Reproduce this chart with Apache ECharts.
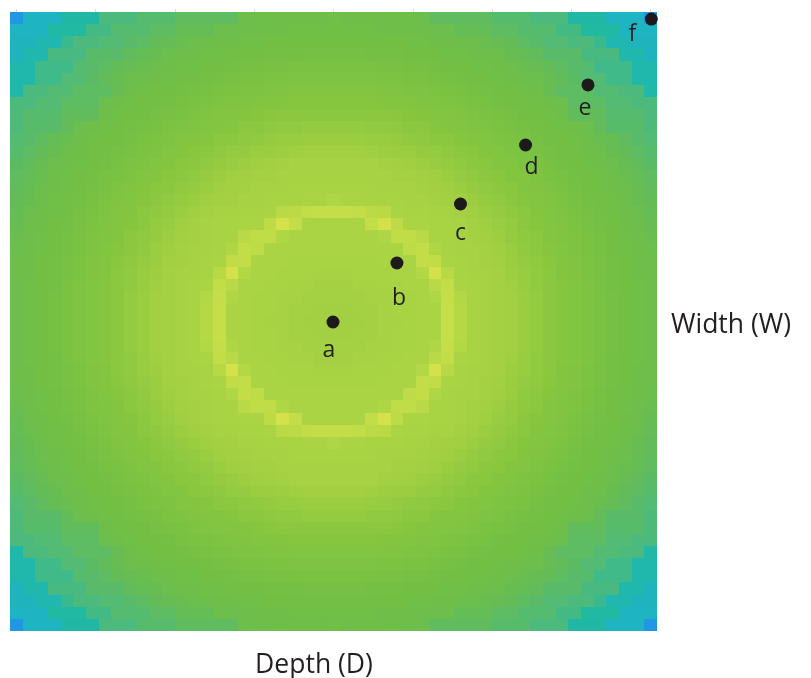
<!DOCTYPE html>
<html>
<head>
<meta charset="utf-8">
<style>html,body{margin:0;padding:0;background:#fff}#c{width:811px;height:678px}</style>
<script src="https://cdn.jsdelivr.net/npm/echarts@6/dist/echarts.min.js"></script>
</head>
<body>
<div id="c"></div>
<script>
// Estimated cell levels of the top-left quadrant (26 x 26); the picture is mirror-symmetric about its centre cell.
const row00 = [0,11,11,11,19,19,19,30,30,30,35,35,35,39,39,39,39,39,46,47,47,48,48,48,48,49];
const row01 = [11,11,11,20,20,20,28,28,34,34,34,38,38,42,42,42,46,46,47,48,48,48,49,49,49,49];
const row02 = [12,12,16,16,26,30,30,33,33,36,38,41,43,45,46,47,48,48,49,49,50,50,50,50,50,50];
const row03 = [12,17,17,29,29,29,36,36,36,40,42,44,46,47,48,49,49,50,50,50,51,51,51,52,52,52];
const row04 = [17,17,27,27,27,34,36,38,41,43,45,47,48,49,49,50,50,51,52,52,53,53,54,54,54,54];
const row05 = [17,17,27,27,33,33,37,41,43,46,47,48,49,50,50,51,52,53,54,54,55,55,56,56,56,56];
const row06 = [18,30,30,33,33,38,38,38,43,48,49,50,50,51,52,53,54,55,56,56,57,57,58,58,58,58];
const row07 = [30,30,33,33,38,38,38,46,48,49,50,50,51,53,54,55,56,57,57,58,59,59,60,60,60,60];
const row08 = [31,35,35,35,40,40,40,48,49,50,50,52,53,54,56,57,58,58,59,60,61,62,62,62,62,62];
const row09 = [31,36,36,36,41,46,48,49,50,51,52,53,55,56,57,58,59,60,62,62,63,64,64,65,65,65];
const row10 = [33,36,39,42,45,47,49,50,50,52,54,55,56,58,59,60,62,62,63,64,66,67,67,68,68,68];
const row11 = [35,38,41,44,47,48,50,50,52,53,55,56,58,59,61,62,63,65,66,68,68,69,70,71,71,71];
const row12 = [37,40,43,46,48,49,50,51,53,55,56,58,59,61,62,64,66,67,69,70,71,72,73,73,73,73];
const row13 = [39,42,45,47,49,50,51,53,54,56,58,59,61,62,64,66,68,70,71,72,72,73,73,73,73,73];
const row14 = [40,43,46,48,49,50,52,54,56,57,59,61,62,64,66,68,70,71,72,73,73,73,74,74,74,74];
const row15 = [41,44,47,49,50,51,53,55,57,58,60,62,64,66,68,70,71,72,73,73,74,74,74,75,76,78];
const row16 = [42,46,48,49,50,52,54,56,58,59,62,63,66,68,70,72,73,73,74,74,75,83,84,88,89,89];
const row17 = [43,47,48,50,51,53,55,57,58,60,62,65,67,70,72,73,74,74,75,75,85,98,88,76,75,75];
const row18 = [45,47,49,50,52,54,56,57,59,62,63,66,69,71,72,73,74,74,83,87,87,78,75,75,75,75];
const row19 = [46,48,49,50,52,54,56,58,60,62,64,68,70,72,73,73,74,78,88,86,76,75,75,75,75,75];
const row20 = [47,48,50,51,53,55,57,59,61,63,66,68,71,72,73,74,75,87,88,76,75,75,74,74,74,74];
const row21 = [47,48,50,51,53,55,57,59,62,64,67,69,72,73,73,74,82,98,80,75,75,74,74,74,73,73];
const row22 = [47,49,50,51,54,56,58,60,62,64,67,70,72,73,74,75,88,83,75,75,74,74,73,73,72,72];
const row23 = [47,49,50,52,54,56,58,60,62,65,68,71,72,73,74,80,89,78,75,74,74,73,73,72,72,72];
const row24 = [47,49,50,52,54,56,58,60,62,65,68,71,72,73,74,81,90,76,75,74,74,73,72,72,71,71];
const row25 = [47,49,50,52,54,56,58,60,62,65,68,71,72,73,74,81,90,76,75,74,73,73,72,71,71,70];
const quadrantRows = [row00,row01,row02,row03,row04,row05,row06,row07,row08,row09,row10,row11,row12,
  row13,row14,row15,row16,row17,row18,row19,row20,row21,row22,row23,row24,row25];

const colorStops = ['#2196e3','#1fb3c4','#20b9a2','#4cba7d','#62bc5b','#72bf44','#86c63f','#a0cf42','#b3d845','#c6de48','#d9e24b'];

const pointNames = ['a','b','c','d','e','f'];
const pointDepth = [24.96, 30.0, 35.01, 40.14, 45.06, 50.05];
const pointWidth = [25.04, 20.18, 15.32, 10.46, 5.51, 0.08];
const labelOffsets = [[-4,28],[2,35],[0,29],[6,22],[-3,24],[-19,15]];
const tickValues = [0,6.25,12.5,18.75,25,31.25,37.5,43.75,50];
const depthTitle = 'Depth (D)';
const widthTitle = 'Width (W)';

const mirror = r => r.concat(r.slice(0, 25).reverse());
const fullRows = quadrantRows.map(mirror);
const allRows = fullRows.concat(fullRows.slice(0, 25).reverse());
const n = allRows.length;
const cells = [];
allRows.forEach((row, y) => row.forEach((v, x) => cells.push([x, y, v])));
const idx = Array.from({length: n}, (_, i) => i);

const FONT = '"Open Sans", sans-serif';
const hidden = {axisLine:{show:false},axisTick:{show:false},axisLabel:{show:false},splitLine:{show:false}};
const chart = echarts.init(document.getElementById('c'), null, {renderer:'canvas'});
chart.setOption({
  animation:false,
  backgroundColor:'#fff',
  title:[
    {text:depthTitle,padding:0,left:314,top:665,textAlign:'center',textVerticalAlign:'middle',textStyle:{fontFamily:FONT,fontWeight:'normal',fontSize:26.5,color:'#231f20'}},
    {text:widthTitle,padding:0,left:731,top:325,textAlign:'center',textVerticalAlign:'middle',textStyle:{fontFamily:FONT,fontWeight:'normal',fontSize:26.5,color:'#231f20'}}
  ],
  grid:{left:10,top:12,width:647,height:619,containLabel:false},
  xAxis:[
    Object.assign({type:'category',data:idx,position:'bottom'},hidden),
    {type:'value',min:-0.5,max:50.5,position:'top',axisLine:{show:false},axisLabel:{show:false},splitLine:{show:false},
     axisTick:{show:true,length:3,customValues:tickValues,lineStyle:{color:'#d9d9e2',width:1}}}
  ],
  yAxis:[
    Object.assign({type:'category',data:idx,inverse:true},hidden),
    Object.assign({type:'value',min:-0.5,max:50.5,inverse:true},hidden)
  ],
  visualMap:{show:false,min:0,max:100,dimension:2,seriesIndex:0,inRange:{color:colorStops}},
  series:[
    {type:'custom',xAxisIndex:0,yAxisIndex:0,data:cells,encode:{x:0,y:1},silent:true,
     renderItem:(params,api)=>{
       const c=api.coord([api.value(0),api.value(1)]);
       const s=api.size([1,1]);
       const x0=Math.round(c[0]-s[0]/2),x1=Math.round(c[0]+s[0]/2);
       const y0=Math.round(c[1]-s[1]/2),y1=Math.round(c[1]+s[1]/2);
       return {type:'rect',shape:{x:x0,y:y0,width:x1-x0,height:y1-y0},style:{fill:api.visual('color')}};
     }},
    {type:'scatter',xAxisIndex:1,yAxisIndex:1,symbolSize:13,z:5,clip:false,
     itemStyle:{color:'#1d1a1b',opacity:1},
     data:pointNames.map((name,i)=>({name,value:[pointDepth[i],pointWidth[i]],
       label:{show:true,position:'inside',offset:labelOffsets[i],formatter:'{b}',fontFamily:FONT,fontSize:23,color:'#231f20'}}))}
  ]
});
</script>
</body>
</html>
